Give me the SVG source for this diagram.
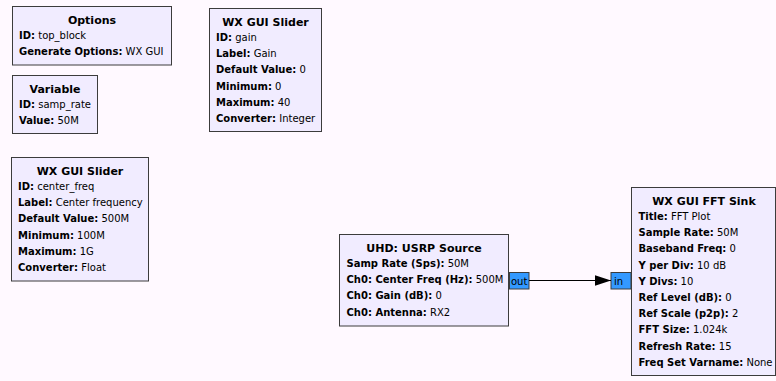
<svg xmlns="http://www.w3.org/2000/svg" width="776" height="381" viewBox="0 0 776 381">
<style>
.blk{fill:#F1ECFF;stroke:#3c3c3c;stroke-width:1}
.port{fill:#3399FF;stroke:#3c3c3c;stroke-width:1}
text{font-family:"DejaVu Sans","Noto Sans",sans-serif;fill:#000}
.t{font-size:11px;font-weight:bold;text-anchor:middle}
.p{font-size:10px}
.k{font-weight:bold}
.pt{font-size:10px}
.wire{stroke:#000;stroke-width:1;fill:none}
</style>
<defs>
<marker id="ah" markerWidth="17" markerHeight="12" refX="16.5" refY="6" orient="auto" markerUnits="userSpaceOnUse">
<polygon points="0,0.5 16.5,6 0,11.5" fill="#000"/>
</marker>
</defs>
<rect x="0" y="0" width="776" height="381" fill="#FFF9FF"/>

<g id="options">
<rect class="blk" x="12.5" y="6.5" width="159" height="58.5"/>
<text class="t" x="92" y="23.5">Options</text>
<text class="p" x="19" y="39"><tspan class="k">ID:</tspan> top_block</text>
<text class="p" x="19" y="55.3"><tspan class="k">Generate Options:</tspan> WX GUI</text>
</g>

<g id="variable_samp_rate">
<rect class="blk" x="12.5" y="75.5" width="85" height="58"/>
<text class="t" x="55" y="92.5">Variable</text>
<text class="p" x="19" y="108"><tspan class="k">ID:</tspan> samp_rate</text>
<text class="p" x="19" y="124.3"><tspan class="k">Value:</tspan> 50M</text>
</g>

<g id="slider_gain">
<rect class="blk" x="209.5" y="8.5" width="112" height="123"/>
<text class="t" x="265.5" y="25.5">WX GUI Slider</text>
<text class="p" x="216" y="41"><tspan class="k">ID:</tspan> gain</text>
<text class="p" x="216" y="57.2"><tspan class="k">Label:</tspan> Gain</text>
<text class="p" x="216" y="73.4"><tspan class="k">Default Value:</tspan> 0</text>
<text class="p" x="216" y="89.6"><tspan class="k">Minimum:</tspan> 0</text>
<text class="p" x="216" y="105.8"><tspan class="k">Maximum:</tspan> 40</text>
<text class="p" x="216" y="122"><tspan class="k">Converter:</tspan> Integer</text>
</g>

<g id="slider_center_freq">
<rect class="blk" x="11.5" y="157.5" width="137" height="123.5"/>
<text class="t" x="80" y="174.5">WX GUI Slider</text>
<text class="p" x="18" y="190"><tspan class="k">ID:</tspan> center_freq</text>
<text class="p" x="18" y="206.2"><tspan class="k">Label:</tspan> Center frequency</text>
<text class="p" x="18" y="222.4"><tspan class="k">Default Value:</tspan> 500M</text>
<text class="p" x="18" y="238.6"><tspan class="k">Minimum:</tspan> 100M</text>
<text class="p" x="18" y="254.8"><tspan class="k">Maximum:</tspan> 1G</text>
<text class="p" x="18" y="271"><tspan class="k">Converter:</tspan> Float</text>
</g>

<g id="uhd_usrp_source">
<rect class="blk" x="339.5" y="234.5" width="169" height="91.5"/>
<text class="t" x="424" y="251.5">UHD: USRP Source</text>
<text class="p" x="346.5" y="267"><tspan class="k">Samp Rate (Sps):</tspan> 50M</text>
<text class="p" x="346.5" y="283.2"><tspan class="k">Ch0: Center Freq (Hz):</tspan> 500M</text>
<text class="p" x="346.5" y="299.4"><tspan class="k">Ch0: Gain (dB):</tspan> 0</text>
<text class="p" x="346.5" y="315.6"><tspan class="k">Ch0: Antenna:</tspan> RX2</text>
<rect class="port" x="509.5" y="272.5" width="19.5" height="16.5"/>
<text class="pt" x="511" y="284.5">out</text>
</g>

<g id="wx_fft_sink">
<rect class="blk" x="631.5" y="187.5" width="144" height="188"/>
<text class="t" x="704" y="204.5">WX GUI FFT Sink</text>
<text class="p" x="638.5" y="220"><tspan class="k">Title:</tspan> FFT Plot</text>
<text class="p" x="638.5" y="236.2"><tspan class="k">Sample Rate:</tspan> 50M</text>
<text class="p" x="638.5" y="252.4"><tspan class="k">Baseband Freq:</tspan> 0</text>
<text class="p" x="638.5" y="268.6"><tspan class="k">Y per Div:</tspan> 10 dB</text>
<text class="p" x="638.5" y="284.8"><tspan class="k">Y Divs:</tspan> 10</text>
<text class="p" x="638.5" y="301"><tspan class="k">Ref Level (dB):</tspan> 0</text>
<text class="p" x="638.5" y="317.2"><tspan class="k">Ref Scale (p2p):</tspan> 2</text>
<text class="p" x="638.5" y="333.4"><tspan class="k">FFT Size:</tspan> 1.024k</text>
<text class="p" x="638.5" y="349.6"><tspan class="k">Refresh Rate:</tspan> 15</text>
<text class="p" x="638.5" y="365.8"><tspan class="k">Freq Set Varname:</tspan> None</text>
<rect class="port" x="611" y="272.5" width="20" height="16.5"/>
<text class="pt" x="614" y="284.5">in</text>
</g>

<g id="connectors">
<path class="wire" d="M529,280.5 L611,280.5" marker-end="url(#ah)"/>
</g>
</svg>
